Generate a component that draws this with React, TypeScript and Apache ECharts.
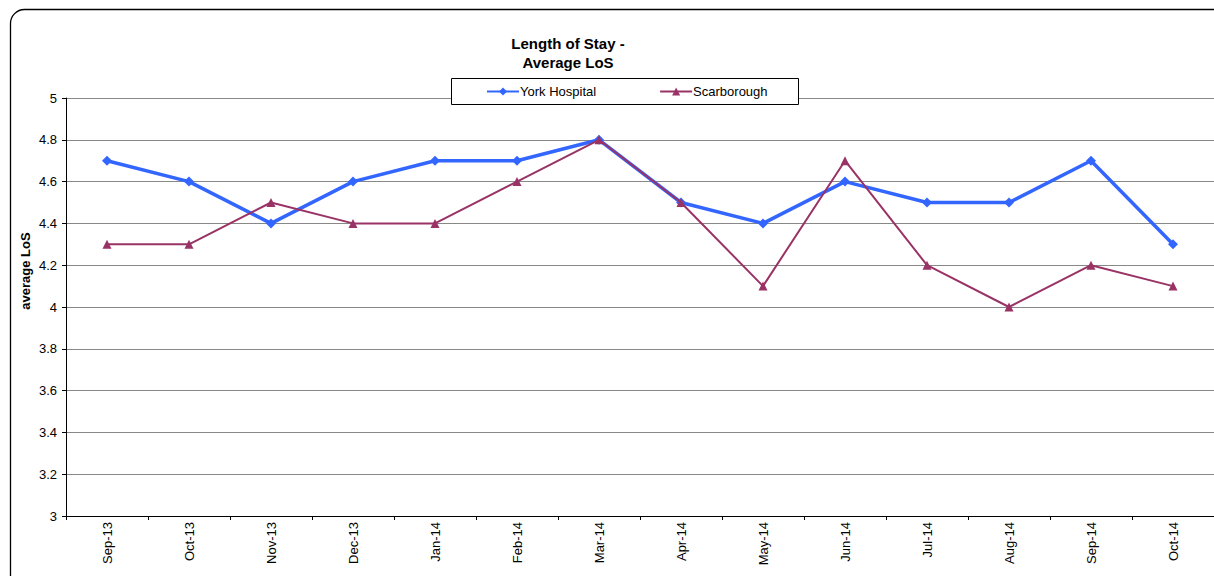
import React, { useEffect, useRef } from "react";
import * as echarts from "echarts";

const categories = ["Sep-13", "Oct-13", "Nov-13", "Dec-13", "Jan-14", "Feb-14", "Mar-14", "Apr-14", "May-14", "Jun-14", "Jul-14", "Aug-14", "Sep-14", "Oct-14"];
const york = [4.7, 4.6, 4.4, 4.6, 4.7, 4.7, 4.8, 4.5, 4.4, 4.6, 4.5, 4.5, 4.7, 4.3];
const scarborough = [4.3, 4.3, 4.5, 4.4, 4.4, 4.6, 4.8, 4.5, 4.1, 4.7, 4.2, 4.0, 4.2, 4.1];

export default function App() {
  const ref = useRef<HTMLDivElement>(null);
  useEffect(() => {
    const chart = echarts.init(ref.current!, null, { renderer: "svg" });
    const font = "Arial, 'Liberation Sans', sans-serif";
    chart.setOption({
      animation: false,
      backgroundColor: "#fff",
      textStyle: { fontFamily: font },
      graphic: [
        {
          type: "rect",
          shape: { x: 10.5, y: 9.5, width: 1240, height: 600, r: 14 },
          style: { fill: "none", stroke: "#000", lineWidth: 1.3 },
          z: 0,
        },
        {
          type: "rect",
          shape: { x: 451.5, y: 78.5, width: 347, height: 26 },
          style: { fill: "#fff", stroke: "#000", lineWidth: 1 },
          z: 5,
        },
        {
          type: "text",
          x: 568,
          y: 52.5,
          z: 10,
          style: {
            text: "Length of Stay -\nAverage LoS",
            fontFamily: font,
            fontSize: 15,
            fontWeight: "bold",
            fill: "#000",
            lineHeight: 19,
            align: "center",
            verticalAlign: "middle",
          },
        },
        {
          type: "text",
          x: 25,
          y: 271,
          rotation: Math.PI / 2,
          z: 10,
          style: {
            text: "average LoS",
            fontFamily: font,
            fontSize: 13,
            fontWeight: "bold",
            fill: "#000",
            align: "center",
            verticalAlign: "middle",
          },
        },
      ],
      legend: {
        left: 481,
        top: 80,
        itemGap: 63,
        itemWidth: 32,
        itemHeight: 10,
        z: 10,
        textStyle: { fontFamily: font, fontSize: 13, color: "#000", padding: [0, 0, 0, -4] },
        data: ["York Hospital", "Scarborough"],
      },
      grid: { left: 66, right: 0, top: 98, bottom: 60, containLabel: false },
      xAxis: {
        type: "category",
        data: categories,
        boundaryGap: true,
        axisLine: { lineStyle: { color: "#000", width: 1 } },
        axisTick: { show: true, length: 4, inside: false, lineStyle: { color: "#000" } },
        axisLabel: { rotate: 90, fontSize: 13, color: "#000", fontFamily: font, margin: 6 },
        splitLine: { show: false },
      },
      yAxis: {
        type: "value",
        min: 3,
        max: 5,
        interval: 0.2,
        axisLine: { show: true, lineStyle: { color: "#000", width: 1 } },
        axisTick: { show: true, length: 4, lineStyle: { color: "#000" } },
        axisLabel: {
          fontSize: 13,
          color: "#000",
          fontFamily: font,
          margin: 9,
          formatter: (v: number) => String(Math.round(v * 10) / 10),
        },
        splitLine: { show: true, lineStyle: { color: "#888", width: 1 } },
      },
      series: [
        {
          name: "York Hospital",
          type: "line",
          data: york,
          symbol: "diamond",
          symbolSize: 10,
          lineStyle: { color: "#3366FF", width: 3.5 },
          itemStyle: { color: "#3366FF" },
          z: 3,
        },
        {
          name: "Scarborough",
          type: "line",
          data: scarborough,
          symbol: "triangle",
          symbolSize: 9,
          lineStyle: { color: "#993366", width: 2 },
          itemStyle: { color: "#993366" },
          z: 4,
        },
      ],
    });
    return () => chart.dispose();
  }, []);
  return (
    <div
      ref={ref}
      style={{ position: "absolute", left: 0, top: 0, width: 1214, height: 576 }}
    />
  );
}
